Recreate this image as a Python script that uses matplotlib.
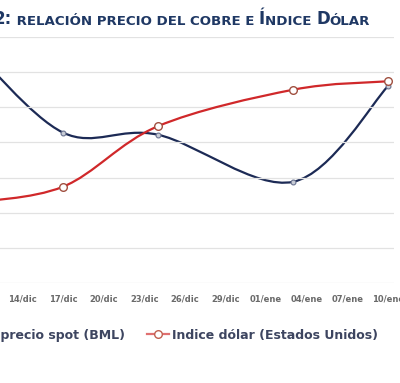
import matplotlib
matplotlib.use("Agg")
import matplotlib.pyplot as plt
import matplotlib.dates as mdates
from matplotlib.path import Path
from matplotlib.patches import PathPatch
from matplotlib.lines import Line2D
import numpy as np
import pandas as pd

# datos (eje y no visible en el recorte)
fechas = ["2010-12-10", "2010-12-17", "2010-12-24", "2011-01-03", "2011-01-10"]
cobre = [4.340, 4.214, 4.211, 4.144, 4.280]      # US$/lb
dolar = [79.14, 79.37, 80.23, 80.75, 80.87]      # indice dolar

fechas_ticks = ["2010-12-14", "2010-12-17", "2010-12-20", "2010-12-23", "2010-12-26",
                "2010-12-29", "2011-01-01", "2011-01-04", "2011-01-07", "2011-01-10"]
etiquetas_x = ["14/dic", "17/dic", "20/dic", "23/dic", "26/dic",
               "29/dic", "01/ene", "04/ene", "07/ene", "10/ene"]

serie_cobre = "Cobre precio spot (BML)"
serie_dolar = "Indice dólar (Estados Unidos)"

# titulo en versalitas: (texto, mayuscula grande?)
titulo = [("2:", True), (" RELACIÓN PRECIO DEL COBRE E ", False), ("Í", True),
          ("NDICE ", False), ("D", True), ("ÓLAR", False)]

azul = "#1c2a55"
rojo = "#d0282a"
navy = "#1f3864"


def curva_suave(x, y):
    # bezier tipo Catmull-Rom (linea suavizada estilo Excel)
    pts = np.column_stack([x, y])
    n = len(pts)
    verts = [pts[0]]
    codes = [Path.MOVETO]
    for i in range(n - 1):
        p0 = pts[max(i - 1, 0)]
        p1 = pts[i]
        p2 = pts[i + 1]
        p3 = pts[min(i + 2, n - 1)]
        verts += [p1 + (p2 - p0) / 6, p2 - (p3 - p1) / 6, p2]
        codes += [Path.CURVE4] * 3
    return Path(verts, codes)


x = mdates.date2num(pd.to_datetime(fechas))
xt = mdates.date2num(pd.to_datetime(fechas_ticks))

W, H = 400, 383
fig = plt.figure(figsize=(W / 100, H / 100), dpi=100)

# el grafico original esta recortado por la izquierda
ppd = 13.54
x0_px = 22.4 - 8 * ppd
x1_px = 394
ax = fig.add_axes([x0_px / W, (H - 283) / H, (x1_px - x0_px) / W, 246 / H])
ax2 = ax.twinx()

ax.set_xlim(mdates.date2num(pd.Timestamp("2010-12-06")),
            mdates.date2num(pd.Timestamp("2010-12-06")) + (x1_px - x0_px) / ppd)
ax.set_ylim(4.00, 4.35)
ax2.set_ylim(78.0, 81.5)
ax.set_yticks(np.arange(4.00, 4.351, 0.05))
ax.yaxis.grid(True, color="#e2e2e2", lw=0.9)
ax.tick_params(axis="y", left=False, labelleft=False)
ax2.tick_params(axis="y", right=False, labelright=False)
for a in (ax, ax2):
    for s in a.spines.values():
        s.set_visible(False)

ax.set_xticks(xt)
ax.set_xticklabels(etiquetas_x, fontsize=6, fontweight="bold", color="#6a6a6a")
ax.tick_params(axis="x", length=0, pad=8)

ax.add_patch(PathPatch(curva_suave(x, cobre), fill=False, ec=azul, lw=1.6))
ax.plot(x, cobre, "o", ms=3.5, mfc="#c8ccd6", mec="#6a7390", mew=0.8, clip_on=False)
ax2.add_patch(PathPatch(curva_suave(x, dolar), fill=False, ec=rojo, lw=1.6))
ax2.plot(x, dolar, "o", ms=5.5, mfc="white", mec="#a05040", mew=1.0, clip_on=False)

# titulo
prev = None
for txt, grande in titulo:
    size = 12 if grande else 9.6
    if prev is None:
        prev = fig.text(12 / W, (H - 24) / H, txt, ha="right", va="baseline",
                        fontsize=size, fontweight="bold", color=navy)
        ax.annotate("GRÁFICO ", xy=(0, 0), xycoords=prev, ha="right", va="bottom",
                    fontsize=size, fontweight="bold", color=navy,
                    annotation_clip=False)
    else:
        prev = ax.annotate(txt, xy=(1, 0), xycoords=prev, ha="left", va="bottom",
                           fontsize=size, fontweight="bold", color=navy,
                           annotation_clip=False)

handles = [
    Line2D([], [], color=azul, lw=1.6, marker="o", ms=3.5, mfc="#c8ccd6", mec="#6a7390"),
    Line2D([], [], color="#e07070", lw=1.6, marker="o", ms=5.5, mfc="white", mec="#c06050"),
]
fig.legend(handles, [serie_cobre, serie_dolar], loc="center left",
           bbox_to_anchor=(-76 / W, (H - 335) / H), ncol=2, frameon=False,
           borderpad=0, handlelength=1.8, handletextpad=0.2, columnspacing=1.7,
           prop={"weight": "bold", "size": 9.0}, labelcolor="#3d4560")

fig.savefig("out.png", dpi=100)
